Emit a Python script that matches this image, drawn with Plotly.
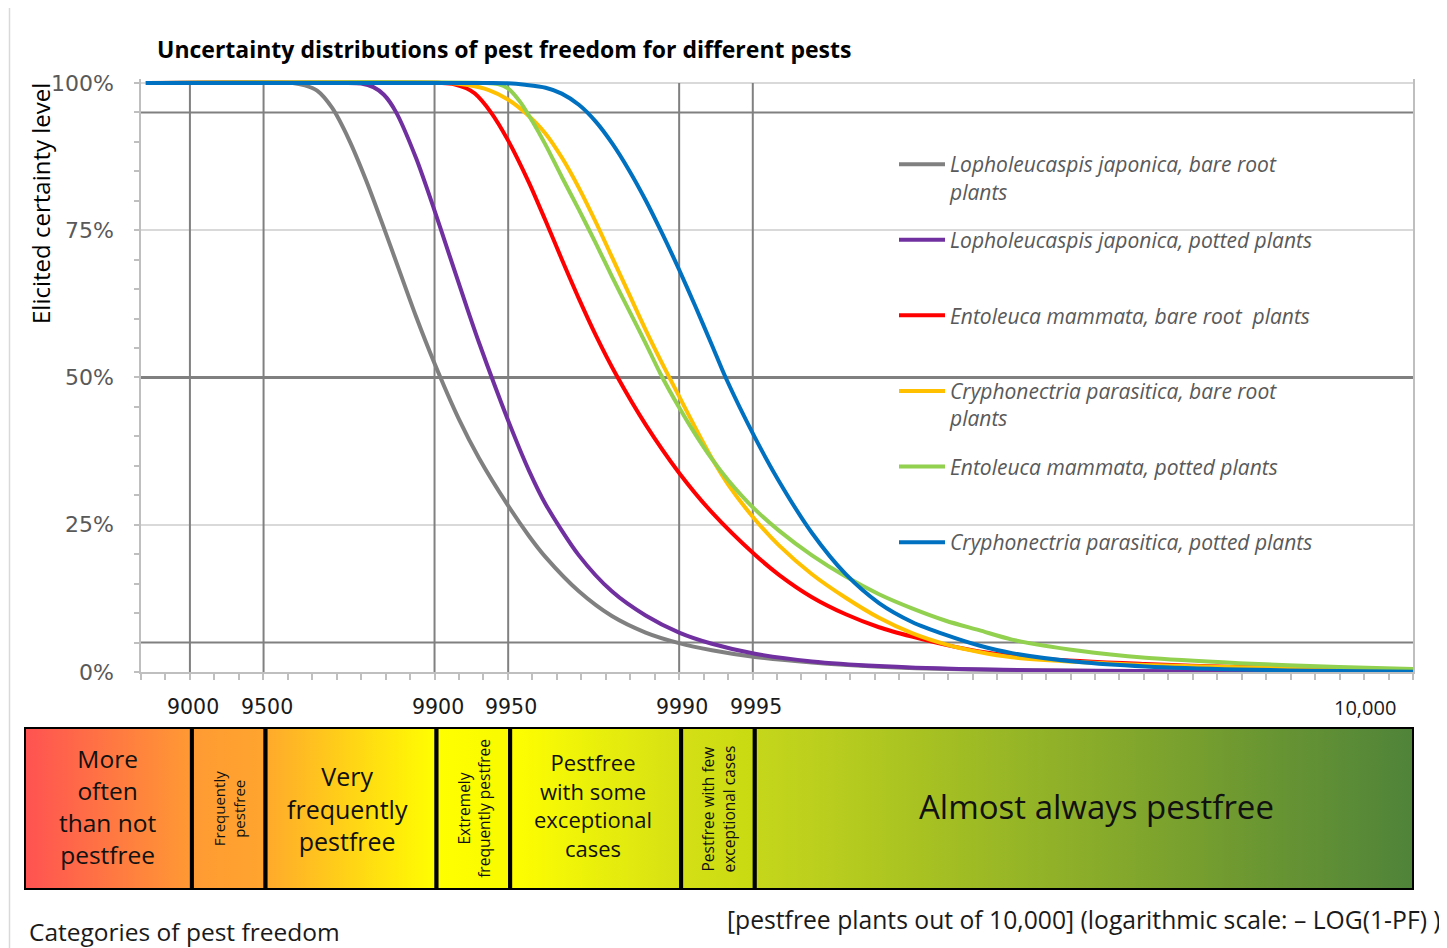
import math
import plotly.graph_objects as go

# ---------------------------------------------------------------
# Data
# x values are on the chart's own scale: -log10(1 - PF)
# y values are the elicited certainty level in %
# ---------------------------------------------------------------
gray_x = [0.82, 1.42, 1.47, 1.52, 1.581, 1.65, 1.72, 1.785, 1.854, 1.924, 1.998, 2.10, 2.182,
          2.30, 2.386, 2.454, 2.59, 2.725, 2.863, 3.0, 3.134, 3.31, 3.543, 3.817, 4.144, 4.716,
          5.3, 6.0]
gray_y = [100, 100, 99.6, 98.7, 95.8, 90.4, 83.5, 76.3, 68.4, 60.4, 52.6, 42.9, 36.3,
          28.3, 23.1, 19.5, 13.7, 9.5, 6.7, 4.9, 3.7, 2.55, 1.6, 0.9, 0.45, 0.15,
          0.07, 0.04]

purple_x = [0.82, 1.62, 1.70, 1.75, 1.793, 1.842, 1.924, 1.998, 2.059, 2.128, 2.182, 2.30,
            2.386, 2.454, 2.59, 2.725, 2.863, 3.0, 3.134, 3.31, 3.543, 3.817, 4.144, 4.716,
            5.3, 6.0]
purple_y = [100, 100, 99.9, 99.3, 98.0, 95.1, 87.3, 78.6, 71.0, 62.4, 55.9, 42.8,
            34.2, 28.5, 19.8, 13.7, 9.6, 6.7, 4.8, 3.1, 1.8, 1.0, 0.5, 0.2,
            0.1, 0.06]

red_x = [0.82, 2.03, 2.08, 2.13, 2.165, 2.229, 2.30, 2.386, 2.454, 2.521, 2.59, 2.659, 2.746,
         2.863, 3.0, 3.134, 3.31, 3.408, 3.543, 3.681, 3.817, 3.952, 4.09, 4.226, 4.496,
         4.904, 5.289, 5.698, 6.0]
red_y = [100, 100, 99.8, 99.1, 98.2, 95.1, 90.3, 83.1, 76.6, 70.0, 63.4, 57.2, 50.2,
         42.0, 33.8, 27.1, 19.9, 16.5, 12.7, 9.8, 7.6, 6.0, 4.6, 3.5, 2.2,
         1.35, 0.85, 0.5, 0.3]

yellow_x = [0.82, 2.06, 2.13, 2.222, 2.30, 2.372, 2.454, 2.521, 2.59, 2.659, 2.727, 2.795,
            2.863, 2.945, 3.0, 3.067, 3.135, 3.204, 3.31, 3.408, 3.543, 3.681, 3.817, 3.952,
            4.09, 4.226, 4.361, 4.635, 4.907, 5.289, 5.698, 6.0]
yellow_y = [100, 100, 99.7, 98.8, 97.2, 94.9, 91.4, 87.3, 82.2, 76.4, 70.3, 64.2,
            58.1, 51.2, 46.8, 41.4, 36.2, 31.6, 25.9, 21.5, 16.6, 12.6, 9.2, 6.6,
            4.7, 3.4, 2.5, 1.7, 1.2, 0.8, 0.45, 0.3]

green_x = [0.82, 2.20, 2.26, 2.30, 2.35, 2.40, 2.454, 2.521, 2.59, 2.659, 2.727, 2.795, 2.863,
           2.924, 3.0, 3.067, 3.135, 3.204, 3.31, 3.408, 3.543, 3.681, 3.817, 3.952, 4.09,
           4.226, 4.361, 4.635, 4.907, 5.289, 5.698, 6.0]
green_y = [100, 100, 99.8, 99.1, 96.8, 93.5, 89.5, 84.0, 78.5, 72.8, 67.0, 61.4, 55.8,
           50.6, 44.9, 40.3, 36.1, 32.4, 27.6, 24.0, 19.8, 16.2, 13.2, 10.8, 8.7,
           7.1, 5.5, 3.6, 2.4, 1.5, 0.85, 0.5]

blue_x = [0.82, 2.22, 2.30, 2.37, 2.454, 2.52, 2.59, 2.66, 2.727, 2.795, 2.863, 2.93,
          3.0, 3.067, 3.135, 3.19, 3.31, 3.408, 3.543, 3.681, 3.817, 3.952, 4.09, 4.226,
          4.361, 4.635, 4.907, 5.289, 5.698, 6.0]
blue_y = [100, 100, 99.95, 99.7, 99.2, 98.2, 96.3, 93.4, 89.7, 85.2, 80.1, 74.5,
          68.3, 62.0, 55.4, 50.0, 39.8, 32.4, 23.6, 16.6, 11.7, 8.5, 6.3, 4.5,
          3.2, 1.7, 0.95, 0.42, 0.16, 0.06]

series_names = [
    "Lopholeucaspis japonica, bare root<br>plants",
    "Lopholeucaspis japonica, potted plants",
    "Entoleuca mammata, bare root  plants",
    "Cryphonectria parasitica, bare root<br>plants",
    "Entoleuca mammata, potted plants",
    "Cryphonectria parasitica, potted plants",
]
series_x = [gray_x, purple_x, red_x, yellow_x, green_x, blue_x]
series_y = [gray_y, purple_y, red_y, yellow_y, green_y, blue_y]
series_colors = ["#808080", "#7030A0", "#FF0000", "#FFC000", "#92D050", "#0070C0"]

# category limits, in pestfree plants out of 10,000
boundaries = [9000, 9500, 9900, 9950, 9990, 9995]
tick_labels = ["9000", "9500", "9900", "9950", "9990", "9995"]
end_label = "10,000"
ref_levels = [5, 50, 95]

categories = [
    "More<br>often<br>than not<br>pestfree",
    "Frequently<br>pestfree",
    "Very<br>frequently<br>pestfree",
    "Extremely<br>frequently pestfree",
    "Pestfree<br>with some<br>exceptional<br>cases",
    "Pestfree with few<br>exceptional cases",
    "Almost always pestfree",
]
category_colors = [
    ("#FF5252", "#FF9A33"),
    ("#FF9A33", "#FFA52E"),
    ("#FFA92C", "#FFFF00"),
    ("#FFFF00", "#FAFA00"),
    ("#FFFF00", "#D5E015"),
    ("#D5E015", "#C9DA12"),
    ("#C6D71A", "#4F8339"),
]
category_font_sizes = [24.5, 15, 25, 15.5, 22, 15.5, 33]
category_angles = [0, -90, 0, -90, 0, -90, 0]
category_xshift = [0, 0, -4, 0, -3, 0, 12]
category_yshift = [2, 0, 0, 0, 4, 0, 2]


def pf_to_x(n):
    return -math.log10(1 - n / 10000)


# ---------------------------------------------------------------
# page geometry (page pixels; the figure sits 8px in from the page corner)
# ---------------------------------------------------------------
W, H = 1447, 948
OFF = 8
FIG_W, FIG_H = W - OFF, H - OFF
ML, MR, MT, MB = 12, 22, 62, 50
PW, PH = FIG_W - ML - MR, FIG_H - MT - MB


def px(x):
    return (x - OFF - ML) / PW


def py(y):
    return (FIG_H - MB - (y - OFF)) / PH


X0, X1 = 141, 1413          # plot area left / right
Y0, Y100 = 672, 83          # 0% and 100%
XMIN, XMAX = 0.8, 6.0
YMAX = 100.6
scale = (X1 - X0) / (XMAX - XMIN)
ytop = Y0 - YMAX * (Y0 - Y100) / 100

BX0, BX1 = 24, 1414         # category bar
BY0, BY1 = 727, 890
BAR_SHIFT = 2               # the bar is drawn a touch right of the chart grid
x2min = XMIN + (BX0 - X0 - BAR_SHIFT) / scale
x2max = XMIN + (BX1 - X0 - BAR_SHIFT) / scale

fig = go.Figure()

# certainty curves
for i, (name, xs, ys, color) in enumerate(zip(series_names, series_x, series_y, series_colors)):
    parts = ["<i>" + p + "</i>" for p in name.split("<br>")]
    label = "<br>".join(parts)
    if len(parts) == 1:
        label += "<br> "
    fig.add_trace(go.Scatter(
        x=xs, y=ys, mode="lines", name=label,
        line=dict(color=color, width=4, shape="spline", smoothing=0.8),
        legendgroup=str(i), hoverinfo="skip",
    ))

# category bar
edges = [x2min] + [pf_to_x(b) for b in boundaries] + [x2max]
for i, text in enumerate(categories):
    a, b = edges[i], edges[i + 1]
    c0, c1 = category_colors[i]
    fig.add_trace(go.Scatter(
        x=[a, b, b, a, a], y=[0, 0, 1, 1, 0], mode="lines", fill="toself",
        fillgradient=dict(type="horizontal", colorscale=[[0, c0], [1, c1]]),
        line=dict(color="black", width=4), xaxis="x2", yaxis="y2",
        showlegend=False, hoverinfo="skip",
    ))
    fig.add_annotation(
        x=(a + b) / 2, y=0.5, xref="x2", yref="y2", text=text, showarrow=False,
        textangle=category_angles[i], xanchor="center", yanchor="middle",
        xshift=category_xshift[i], yshift=category_yshift[i],
        font=dict(family="Open Sans", size=category_font_sizes[i], color="#111111"),
    )

shapes = []
# dark vertical lines at the category limits
for b in boundaries:
    shapes.append(dict(type="line", xref="x", yref="y", x0=pf_to_x(b), x1=pf_to_x(b),
                       y0=0, y1=100, layer="between",
                       line=dict(color="#808080", width=2)))
# dark horizontal reference levels
for lv in ref_levels:
    shapes.append(dict(type="line", xref="x", yref="y", x0=XMIN, x1=XMAX, y0=lv, y1=lv,
                       layer="between",
                       line=dict(color="#808080", width=3 if lv == 50 else 2)))
# outer frame of the chart area
shapes.append(dict(type="rect", xref="paper", yref="paper", x0=px(9.5), x1=px(1480),
                   y0=py(7), y1=py(990), layer="below",
                   line=dict(color="#D9D9D9", width=1.5)))

# x tick labels
for b, t in zip(boundaries, tick_labels):
    fig.add_annotation(x=pf_to_x(b), y=py(707), xref="x", yref="paper", text=t,
                       showarrow=False, xshift=3, xanchor="center", yanchor="middle",
                       font=dict(family="DejaVu Sans", size=20.5, color="#1a1a1a"))
fig.add_annotation(x=XMAX, y=py(707), xref="x", yref="paper", text=end_label,
                   showarrow=False, xanchor="right", yanchor="middle", xshift=-15,
                   font=dict(family="Open Sans", size=20, color="#1a1a1a"))

# titles and captions
fig.add_annotation(x=px(155), y=py(49), xref="paper", yref="paper", xanchor="left",
                   yanchor="middle",
                   text="<b>Uncertainty distributions of pest freedom for different pests</b>",
                   showarrow=False, font=dict(family="Open Sans", size=23, color="black"))
fig.add_annotation(x=px(40), y=py(204), xref="paper", yref="paper", textangle=-90,
                   xanchor="center", yanchor="middle",
                   text="Elicited certainty level", showarrow=False,
                   font=dict(family="Open Sans", size=24, color="black"))
fig.add_annotation(x=px(27), y=py(931), xref="paper", yref="paper", xanchor="left",
                   yanchor="middle",
                   text="Categories of pest freedom", showarrow=False,
                   font=dict(family="Open Sans", size=24.5, color="#1a1a1a"))
fig.add_annotation(x=px(1443), y=py(920), xref="paper", yref="paper", xanchor="right",
                   yanchor="middle",
                   text="[pestfree plants out of 10,000] (logarithmic scale: \u2013 LOG(1-PF) )",
                   showarrow=False, font=dict(family="Open Sans", size=24.7, color="#1a1a1a"))

fig.update_layout(
    width=FIG_W, height=FIG_H,
    margin=dict(l=ML, r=MR, t=MT, b=MB),
    paper_bgcolor="white", plot_bgcolor="white",
    shapes=shapes,
    xaxis=dict(domain=[px(X0), px(X1)], range=[XMIN, XMAX], showgrid=False,
               zeroline=False, showline=True, linecolor="#BFBFBF", linewidth=1.5,
               ticks="outside", tick0=XMIN, dtick=0.1, ticklen=6, tickwidth=1.5,
               tickcolor="#BFBFBF", showticklabels=False, anchor="y", fixedrange=True),
    yaxis=dict(domain=[py(Y0), py(ytop)], range=[0, YMAX], tick0=0, dtick=25,
               ticksuffix="%", gridcolor="#D9D9D9", gridwidth=1.5, zeroline=False,
               showline=True, linecolor="#BFBFBF", linewidth=1.5, mirror=True,
               ticks="outside", ticklen=5, tickwidth=1.5, tickcolor="#BFBFBF",
               minor=dict(dtick=5, ticks="outside", ticklen=5, tickcolor="#BFBFBF"),
               ticklabelstandoff=16,
               tickfont=dict(family="DejaVu Sans", size=22, color="#595959"),
               anchor="x", fixedrange=True),
    xaxis2=dict(domain=[px(BX0), px(BX1)], range=[x2min, x2max], visible=False,
                anchor="y2", fixedrange=True),
    yaxis2=dict(domain=[py(BY1), py(BY0)], range=[0, 1], visible=False,
                anchor="x2", fixedrange=True),
    legend=dict(x=px(894), y=py(144), xanchor="left", yanchor="top",
                valign="top", traceorder="grouped", tracegroupgap=18,
                itemwidth=46, bgcolor="rgba(0,0,0,0)",
                font=dict(family="Open Sans", size=21, color="#595959")),
    showlegend=True,
)

fig.write_html("out.html")
